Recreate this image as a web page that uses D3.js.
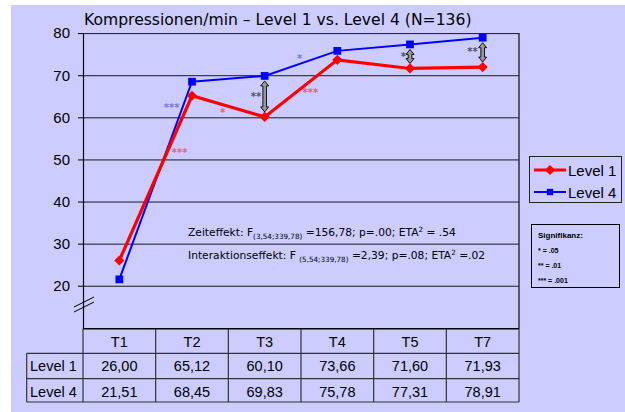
<!DOCTYPE html>
<html>
<head>
<meta charset="utf-8">
<script src="https://cdn.jsdelivr.net/npm/d3@7"></script>
<style>
  body { margin: 0; background: #fff; }
  svg { display: block; }
</style>
</head>
<body>
<div id="chart"></div>
<script>
// Messzeitpunkte und Mittelwerte
const categories = ['T1', 'T2', 'T3', 'T4', 'T5', 'T7'];
const level1 = [26.00, 65.12, 60.10, 73.66, 71.60, 71.93];
const level4 = [21.51, 68.45, 69.83, 75.78, 77.31, 78.91];
const yTicks = [20, 30, 40, 50, 60, 70, 80];
const seriesNames = ['Level 1', 'Level 4'];

// Signifikanz-Sterne: Position in Kategorie-Index und Wert
const starIdx = [0.72, 0.83, 1.42, 2.48, 2.63, 1.88, 3.91, 4.86];
const starVal = [62.7, 52.2, 61.6, 74.4, 66.3, 65.5, 75.0, 76.0];
const starLabel = ['***', '***', '*', '*', '***', '**', '*', '**'];
const starKind = ['l4', 'l1', 'l1', 'l4', 'l1', 'diff', 'diff', 'diff'];
// Unterschied Level 1 vs. Level 4 signifikant bei
const diffIdx = [2, 4, 5];

const W = 625, H = 412;
const pLeft = 83, pRight = 519, pTop = 33.1, pBottom = 328.7;
const red = '#ff0000', blue = '#0000ff';
const starColor = { l1: '#ec5c78', l4: '#7474e8', diff: '#505060' };

const svg = d3.select('#chart').append('svg')
  .attr('width', W).attr('height', H)
  .style('font-family', '"Liberation Sans", Arial, sans-serif');

// Hintergrund
svg.append('rect').attr('x', 11).attr('y', 5).attr('width', W - 11).attr('height', H - 5)
  .attr('fill', '#ccccff');

const x = d3.scaleBand().domain(categories).range([pLeft, pRight]).padding(0);
const cx = (i) => x(categories[0]) + x.bandwidth() * (i + 0.5);
const y = d3.scaleLinear().domain([9.8, 80]).range([pBottom, pTop]);

// Gitterlinien
svg.append('g')
  .attr('transform', `translate(${pLeft},0)`)
  .call(d3.axisLeft(y).tickValues(yTicks).tickSize(-(pRight - pLeft)).tickFormat(''))
  .call((g) => g.select('.domain').remove())
  .call((g) => g.selectAll('.tick line').attr('stroke', '#1a1a1a'));

// rechter Rand
svg.append('line').attr('x1', pRight).attr('x2', pRight).attr('y1', pTop).attr('y2', pBottom)
  .attr('stroke', '#333').attr('stroke-width', 1.5);

// y-Achse
const yAxis = svg.append('g')
  .attr('transform', `translate(${pLeft},0)`)
  .call(d3.axisLeft(y).tickValues(yTicks).tickSize(5).tickSizeOuter(0).tickPadding(8));
yAxis.select('.domain').attr('stroke', '#000').attr('stroke-width', 1.2);
yAxis.selectAll('.tick text').attr('font-size', 15).attr('fill', '#000')
  .attr('font-family', '"Liberation Sans", Arial, sans-serif');

// Achsenbruch
[0, 5].forEach((d) => {
  svg.append('line')
    .attr('x1', 74).attr('y1', 307 + d).attr('x2', 94).attr('y2', 297 + d)
    .attr('stroke', '#000').attr('stroke-width', 1);
});

// Titel
svg.append('text').attr('x', 84).attr('y', 24.5)
  .attr('font-family', '"DejaVu Sans", Verdana, sans-serif')
  .attr('font-size', 15.6).attr('fill', '#000')
  .text('Kompressionen/min – Level 1 vs. Level 4 (N=136)');

// Statistik-Texte
const stat = svg.append('g')
  .attr('font-family', '"DejaVu Sans", Verdana, sans-serif')
  .attr('font-size', 10.7).attr('fill', '#000');
const t1 = stat.append('text').attr('x', 188).attr('y', 236);
t1.append('tspan').text('Zeiteffekt: F');
t1.append('tspan').attr('font-size', 7.2).attr('dy', 3).text('(3,54;339,78)');
t1.append('tspan').attr('dy', -3).text(' =156,78; p=.00; ETA');
t1.append('tspan').attr('font-size', 7.2).attr('dy', -4).text('2');
t1.append('tspan').attr('dy', 4).text(' = .54');
const t2 = stat.append('text').attr('x', 188).attr('y', 259);
t2.append('tspan').text('Interaktionseffekt: F ');
t2.append('tspan').attr('font-size', 7.2).attr('dy', 3).text('(5,54;339,78)');
t2.append('tspan').attr('dy', -3).text(' =2,39; p=.08; ETA');
t2.append('tspan').attr('font-size', 7.2).attr('dy', -4).text('2');
t2.append('tspan').attr('dy', 4).text(' =.02');

// Signifikanz-Sterne
svg.append('g').selectAll('text')
  .data(starIdx)
  .join('text')
  .attr('x', (d) => cx(d))
  .attr('y', (d, i) => y(starVal[i]) + 5.5)
  .attr('text-anchor', 'middle')
  .attr('font-family', '"DejaVu Sans", sans-serif')
  .attr('font-size', 10).attr('font-weight', 'bold')
  .attr('fill', (d, i) => starColor[starKind[i]])
  .text((d, i) => starLabel[i]);

// Doppelpfeile
function arrowPath(x0, ya, yb) {
  const hw = 1.8, aw = 4, ah = 5;
  return `M${x0},${ya} L${x0 + aw},${ya + ah} L${x0 + hw},${ya + ah} L${x0 + hw},${yb - ah}` +
    ` L${x0 + aw},${yb - ah} L${x0},${yb} L${x0 - aw},${yb - ah} L${x0 - hw},${yb - ah}` +
    ` L${x0 - hw},${ya + ah} L${x0 - aw},${ya + ah} Z`;
}
svg.append('g').selectAll('path')
  .data(diffIdx)
  .join('path')
  .attr('d', (i) => arrowPath(cx(i), y(level4[i]) + 5, y(level1[i]) - 5))
  .attr('fill', '#999').attr('stroke', '#000').attr('stroke-width', 0.9);

// Linien
const line = d3.line().x((d, i) => cx(i)).y((d) => y(d));
svg.append('path').datum(level4).attr('d', line)
  .attr('fill', 'none').attr('stroke', blue).attr('stroke-width', 2);
svg.append('path').datum(level1).attr('d', line)
  .attr('fill', 'none').attr('stroke', red).attr('stroke-width', 3.2);

const diamond = d3.symbol().type(d3.symbolSquare).size(52);
const square = d3.symbol().type(d3.symbolSquare).size(60);
svg.append('g').selectAll('path').data(level4).join('path')
  .attr('d', square)
  .attr('transform', (d, i) => `translate(${cx(i)},${y(d)})`)
  .attr('fill', blue);
svg.append('g').selectAll('path').data(level1).join('path')
  .attr('d', diamond)
  .attr('transform', (d, i) => `translate(${cx(i)},${y(d)}) rotate(45)`)
  .attr('fill', red);

// Legende
const lg = svg.append('g');
lg.append('rect').attr('x', 529.5).attr('y', 156.5).attr('width', 92).attr('height', 46)
  .attr('fill', 'none').attr('stroke', '#222').attr('stroke-width', 1);
seriesNames.forEach((name, i) => {
  const ly = 170 + i * 22;
  lg.append('line').attr('x1', 534).attr('x2', 566).attr('y1', ly).attr('y2', ly)
    .attr('stroke', i === 0 ? red : blue).attr('stroke-width', i === 0 ? 3 : 2);
  lg.append('path')
    .attr('d', i === 0 ? diamond : d3.symbol().type(d3.symbolSquare).size(40))
    .attr('transform', `translate(550,${ly})${i === 0 ? ' rotate(45)' : ''}`)
    .attr('fill', i === 0 ? red : blue);
  lg.append('text').attr('x', 568).attr('y', ly + 5.5)
    .attr('font-size', 15).attr('fill', '#000').text(name);
});

// Signifikanz-Box
const sg = svg.append('g').attr('font-family', '"Liberation Sans", Arial, sans-serif')
  .attr('font-weight', 'bold').attr('fill', '#000');
sg.append('rect').attr('x', 531.5).attr('y', 224.5).attr('width', 88).attr('height', 63)
  .attr('fill', 'none').attr('stroke', '#000').attr('stroke-width', 1);
sg.append('text').attr('x', 538).attr('y', 237.5).attr('font-size', 8).text('Signifikanz:');
['* = .05', '** = .01', '*** = .001'].forEach((t, i) => {
  sg.append('text').attr('x', 538).attr('y', 252.5 + i * 15).attr('font-size', 7).text(t);
});

// Datentabelle
const rowTop = [pBottom, 353.3, 378.7];
const rowBot = 402;
const tbl = svg.append('g').attr('stroke', '#333').attr('stroke-width', 1.2);
tbl.append('line').attr('x1', pLeft).attr('x2', pRight).attr('y1', rowTop[0]).attr('y2', rowTop[0])
  .attr('stroke', '#000').attr('stroke-width', 1.5);
[rowTop[1], rowTop[2], rowBot].forEach((yy) => {
  tbl.append('line').attr('x1', 26.7).attr('x2', pRight).attr('y1', yy).attr('y2', yy);
});
tbl.append('line').attr('x1', 26.7).attr('x2', 26.7).attr('y1', rowTop[1]).attr('y2', rowBot);
tbl.append('line').attr('x1', pLeft).attr('x2', pLeft).attr('y1', pBottom).attr('y2', rowBot);
categories.forEach((c) => {
  tbl.append('line').attr('x1', x(c) + x.bandwidth()).attr('x2', x(c) + x.bandwidth())
    .attr('y1', pBottom).attr('y2', rowBot);
});

const tt = svg.append('g').attr('font-size', 14.5).attr('fill', '#000');
tt.selectAll('.hdr').data(categories).join('text').attr('class', 'hdr')
  .attr('x', (d) => x(d) + x.bandwidth() / 2).attr('y', 346.5)
  .attr('text-anchor', 'middle').text((d) => d);
const fmt = (v) => v.toFixed(2).replace('.', ',');
[level1, level4].forEach((vals, r) => {
  const yy = rowTop[r + 1] + 18;
  tt.append('text').attr('x', 30).attr('y', yy).text(seriesNames[r]);
  tt.selectAll('.v' + r).data(vals).join('text').attr('class', 'v' + r)
    .attr('x', (d, i) => x(categories[i]) + x.bandwidth() / 2).attr('y', yy)
    .attr('text-anchor', 'middle').text((d) => fmt(d));
});
</script>
</body>
</html>
